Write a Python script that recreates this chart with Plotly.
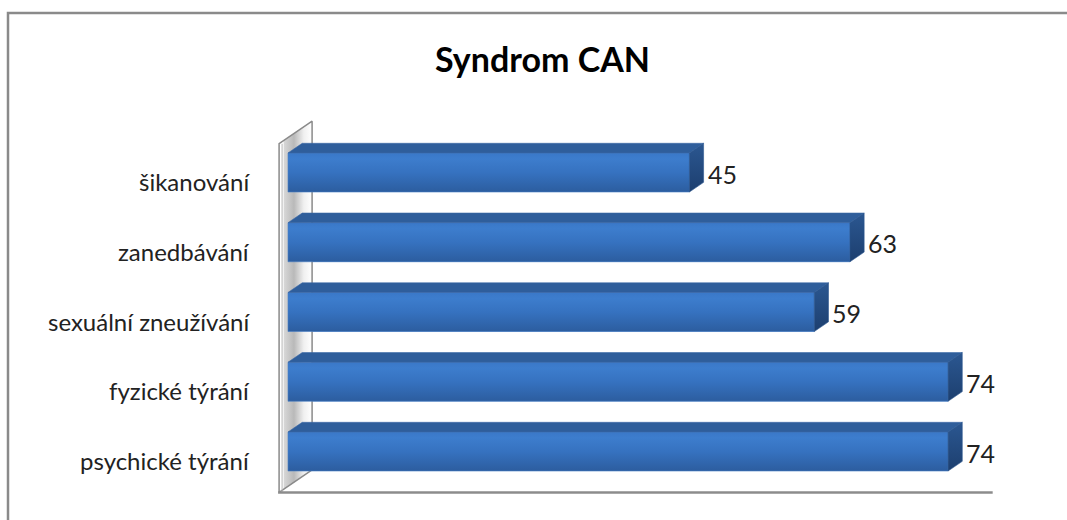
import plotly.graph_objects as go

# Chart data (bottom to top)
categories = ["psychické týrání", "fyzické týrání", "sexuální zneužívání", "zanedbávání", "šikanování"]
values = [74, 74, 59, 63, 45]
title_text = "Syndrom CAN"
axis_max = 80

# Layout geometry (pixels)
W, H = 1067, 520
ML, MR, MT, MB = 270, 57, 115, 20
PX_PER_UNIT = 8.92          # horizontal scale of the value axis
PX_PER_CAT = 69.75          # vertical spacing of categories
X0_PX = 288                 # pixel position of value 0 on the bar front plane
Y0_PX = 451.5               # pixel position of the first category centre

plot_w = W - ML - MR
plot_h = H - MT - MB
x_range = [(ML - X0_PX) / PX_PER_UNIT, (W - MR - X0_PX) / PX_PER_UNIT]
y_range = [(Y0_PX - (H - MB)) / PX_PER_CAT, (Y0_PX - MT) / PX_PER_CAT]

# Oblique depth projection: one unit of depth moves right and up
DX = 33 / PX_PER_UNIT
DY = 22.5 / PX_PER_CAT
Z_FRONT, Z_BAR_BACK, Z_WALL_BACK = -0.27, 0.43, 0.73
HALF = 0.28                 # half height of the bar front face (category units)


def proj(v, yi, z):
    return v + DX * z, yi + DY * z


def poly(points):
    xs = [p[0] for p in points] + [points[0][0]]
    ys = [p[1] for p in points] + [points[0][1]]
    return xs, ys


fig = go.Figure()

# Left wall (inner face with a silver gradient)
y_lo, y_hi = -0.5, len(categories) - 0.5
wall = [proj(0, y_lo, Z_FRONT), proj(0, y_lo, Z_WALL_BACK),
        proj(0, y_hi, Z_WALL_BACK), proj(0, y_hi, Z_FRONT)]
wx, wy = poly(wall)
fig.add_trace(go.Scatter(
    x=wx, y=wy, mode="lines", fill="toself", line=dict(color="#8a8a8a", width=1.5),
    fillgradient=dict(type="horizontal", colorscale=[
        [0.0, "#ffffff"], [0.12, "#ffffff"], [0.16, "#d6d6d6"], [0.45, "#b9b9b9"],
        [0.75, "#f0f0f0"], [1.0, "#ffffff"]]),
    hoverinfo="skip", showlegend=False))

# Wall thickness line along the front edge
fx = [proj(0, y_lo, Z_FRONT)[0] + 3 / PX_PER_UNIT] * 2
fy = [proj(0, y_lo, Z_FRONT)[1], proj(0, y_hi, Z_FRONT)[1]]
fig.add_trace(go.Scatter(x=fx, y=fy, mode="lines", line=dict(color="#b5b5b5", width=1),
                         hoverinfo="skip", showlegend=False))

# Floor front edge
flx = [proj(0, y_lo, Z_FRONT)[0] - 1 / PX_PER_UNIT, proj(axis_max, y_lo, Z_FRONT)[0]]
fly = [proj(0, y_lo, Z_FRONT)[1]] * 2
fig.add_trace(go.Scatter(x=flx, y=fly, mode="lines", line=dict(color="#8c8c8c", width=2.5),
                         hoverinfo="skip", showlegend=False))

# Bars: front face from the bar trace, then gradient, top and end faces
fig.add_trace(go.Bar(
    x=values, y=list(range(len(categories))), orientation="h", width=2 * HALF,
    marker=dict(color="#3670bb", line=dict(width=0)), hoverinfo="skip", showlegend=False))

for i, v in enumerate(values):
    front = [proj(0, i - HALF, 0), proj(v, i - HALF, 0), proj(v, i + HALF, 0), proj(0, i + HALF, 0)]
    x, y = poly(front)
    fig.add_trace(go.Scatter(
        x=x, y=y, mode="lines", fill="toself", line=dict(color="#4a7fc4", width=0.6),
        fillgradient=dict(type="vertical", colorscale=[
            [0.0, "#2c5d9f"], [0.5, "#3672c0"], [0.85, "#3d7dcd"], [1.0, "#3a78c8"]]),
        hoverinfo="skip", showlegend=False))

    top = [proj(0, i + HALF, 0), proj(v, i + HALF, 0),
           proj(v, i + HALF, Z_BAR_BACK), proj(0, i + HALF, Z_BAR_BACK)]
    x, y = poly(top)
    fig.add_trace(go.Scatter(
        x=x, y=y, mode="lines", fill="toself", fillcolor="#2f5e9b",
        line=dict(color="#3a68a6", width=0.6), hoverinfo="skip", showlegend=False))

    end = [proj(v, i - HALF, 0), proj(v, i - HALF, Z_BAR_BACK),
           proj(v, i + HALF, Z_BAR_BACK), proj(v, i + HALF, 0)]
    x, y = poly(end)
    fig.add_trace(go.Scatter(
        x=x, y=y, mode="lines", fill="toself", line=dict(color="#2a568f", width=0.6),
        fillgradient=dict(type="vertical", colorscale=[
            [0.0, "#1d3f6f"], [1.0, "#2b5791"]]),
        hoverinfo="skip", showlegend=False))

annotations = []
# Value labels right of each bar end
for i, v in enumerate(values):
    annotations.append(dict(
        x=proj(v, i, Z_BAR_BACK)[0], y=i, xref="x", yref="y", text=str(v),
        showarrow=False, xanchor="left", yanchor="middle", xshift=2, yshift=-1,
        font=dict(family="Lato, Calibri, sans-serif", size=25, color="#222222")))

# Category labels
for i, c in enumerate(categories):
    annotations.append(dict(
        x=(252 - ML) / plot_w, y=i, xref="paper", yref="y", text=c,
        showarrow=False, xanchor="right", yanchor="middle", yshift=-9,
        font=dict(family="Lato, Calibri, sans-serif", size=24, color="#222222")))

# Title
annotations.append(dict(
    x=(542 - ML) / plot_w, y=(H - MB - 58) / plot_h, xref="paper", yref="paper",
    text="<b>" + title_text + "</b>", showarrow=False, xanchor="center", yanchor="middle",
    font=dict(family="Lato, Calibri, sans-serif", size=34, color="#000000")))

# Chart frame
shapes = [dict(
    type="rect", xref="paper", yref="paper",
    x0=(8 - ML) / plot_w, x1=(W + 5 - ML) / plot_w,
    y0=(H - MB - (H + 5)) / plot_h, y1=(H - MB - 13) / plot_h,
    line=dict(color="#8a8a8a", width=2.5), fillcolor="rgba(0,0,0,0)", layer="below")]

fig.update_layout(
    width=W, height=H,
    margin=dict(l=ML, r=MR, t=MT, b=MB),
    paper_bgcolor="white", plot_bgcolor="white",
    barmode="overlay",
    xaxis=dict(range=x_range, visible=False, fixedrange=True),
    yaxis=dict(range=y_range, visible=False, fixedrange=True),
    annotations=annotations, shapes=shapes,
)

fig.write_html("out.html", config={"displayModeBar": False})
